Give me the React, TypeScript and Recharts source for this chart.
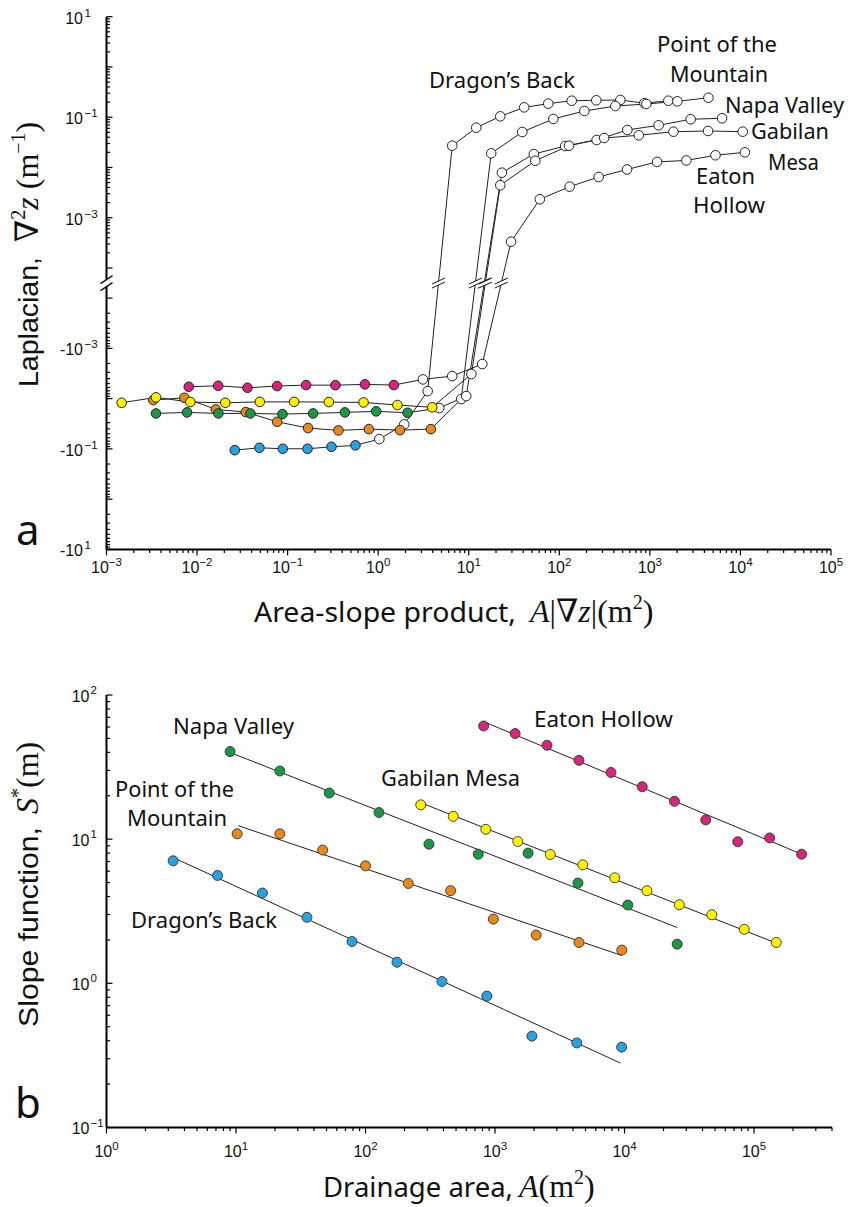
import React from 'react'
import { ComposedChart, Line, Scatter, XAxis, YAxis, ReferenceDot } from 'recharts'

// ---------- panel a: Laplacian vs area-slope product ----------
// first `filled` points are the coloured (convex) ones, the rest are open circles
const dragonAX = [0.0261, 0.0488, 0.0885, 0.166, 0.305, 0.561, 1.03, 1.94, 3.52, 6.57, 12.1, 22.3, 41, 75.5, 137, 256, 472, 869, 1600]
const dragonAY = [-0.106, -0.095, -0.0995, -0.0995, -0.0908, -0.0851, -0.0638, -0.0325, -0.00708, 0.0271, 0.0618, 0.104, 0.157, 0.186, 0.213, 0.217, 0.22, 0.19, 0.213]
const dragonAFilled = 6

const pointAX = [0.00329, 0.00724, 0.0161, 0.0345, 0.0766, 0.168, 0.364, 0.789, 1.74, 3.82, 8.26, 17.7, 39, 85.9, 189, 416, 914, 2010, 4430]
const pointAY = [-0.0107, -0.00962, -0.0164, -0.0185, -0.0289, -0.0385, -0.0429, -0.0404, -0.0423, -0.0404, -0.0102, 0.0191, 0.0508, 0.0923, 0.133, 0.167, 0.183, 0.207, 0.244]
const pointAFilled = 10

const napaAX = [0.00352, 0.00775, 0.0172, 0.0388, 0.0877, 0.191, 0.429, 0.95, 2.11, 4.72, 9.38, 23.2, 52.3, 116, 258, 564, 1250, 2820, 6270]
const napaAY = [-0.0197, -0.0188, -0.0197, -0.0197, -0.0203, -0.0197, -0.0188, -0.0179, -0.0191, -0.0154, -0.0089, 0.00787, 0.0185, 0.0267, 0.0352, 0.0557, 0.069, 0.091, 0.0953]
const napaAFilled = 9

const gabilanAX = [0.00147, 0.00352, 0.00843, 0.0205, 0.0493, 0.118, 0.285, 0.689, 1.63, 3.95, 10.7, 22.3, 54.3, 128, 313, 754, 1820, 4390, 10600]
const gabilanAY = [-0.0121, -0.00944, -0.0117, -0.0121, -0.0116, -0.0116, -0.0117, -0.0119, -0.0134, -0.0149, -0.00324, 0.00443, 0.0136, 0.0271, 0.0386, 0.0437, 0.0515, 0.0532, 0.0515]
const gabilanAFilled = 10

const eatonAX = [0.0081, 0.0171, 0.036, 0.0766, 0.16, 0.337, 0.713, 1.49, 3.12, 6.57, 14.1, 29.3, 60.9, 130, 272, 560, 1200, 2530, 5300, 11200]
const eatonAY = [-0.00581, -0.00555, -0.00608, -0.00562, -0.00537, -0.0054, -0.0052, -0.00537, -0.00414, -0.00356, -0.00205, 0.000333, 0.00233, 0.00415, 0.00647, 0.00912, 0.0129, 0.0138, 0.0175, 0.02]
const eatonAFilled = 8

const aXTickLabels = [1e-3, 1e-2, 1e-1, 1, 10, 100, 1e3, 1e4, 1e5]
const aYTickLabels = [10, 0.1, 0.001, -0.001, -0.1, -10]

// ---------- panel b: slope function vs drainage area ----------
const dragonBX = [3.27, 7.2, 16.0, 35.3, 78.6, 175, 389, 865, 1927, 4280, 9500]
const dragonBY = [7.08, 5.6, 4.23, 2.87, 1.95, 1.4, 1.03, 0.816, 0.43, 0.386, 0.361]
const dragonFitX = [3.27, 9300]
const dragonFitY = [7.46, 0.28]

const pointBX = [10.2, 21.8, 46.7, 100, 214, 454, 971, 2080, 4450, 9530]
const pointBY = [10.9, 10.9, 8.4, 6.53, 4.93, 4.39, 2.79, 2.16, 1.92, 1.7]
const pointFitX = [10.4, 9530]
const pointFitY = [12.4, 1.56]

const napaBX = [9.0, 21.8, 52.5, 127, 309, 742, 1800, 4370, 10600, 25500]
const napaBY = [40.5, 29.7, 20.9, 15.3, 9.23, 7.87, 8.0, 4.96, 3.49, 1.87]
const napaFitX = [9.0, 25500]
const napaFitY = [39.9, 2.44]

const gabilanBX = [267, 476, 849, 1500, 2670, 4760, 8410, 14900, 26500, 47200, 84100, 148500]
const gabilanBY = [17.3, 14.4, 11.7, 9.63, 7.83, 6.64, 5.4, 4.39, 3.51, 2.99, 2.37, 1.92]
const gabilanFitX = [267, 148500]
const gabilanFitY = [17.9, 1.9]

const eatonBX = [817, 1430, 2520, 4450, 7860, 13700, 24300, 42400, 74900, 132000, 233000]
const eatonBY = [61.0, 54.0, 44.8, 35.2, 29.0, 23.1, 18.3, 13.6, 9.59, 10.2, 7.87]
const eatonFitX = [817, 233000]
const eatonFitY = [65.3, 7.87]

const bXTickLabels = [1, 10, 100, 1e3, 1e4, 1e5]
const bYTickLabels = [0.1, 1, 10, 100]

const BLUE = '#2aa1dc'
const ORANGE = '#e8891f'
const GREEN = '#1f9548'
const YELLOW = '#fff200'
const MAGENTA = '#cf287c'

const TICK_FONT = '"Liberation Sans", Arial, sans-serif'
const LABEL_FONT = '"Noto Sans", "Open Sans", sans-serif'
const MATH_FONT = '"Liberation Serif", "DejaVu Serif", serif'

// split log axis for panel a: positives on top, negatives below, 0.6 decade gap
const GAP = 0.6
const GAP_MID = -4 - GAP / 2
const lapToU = (v: number) => (v > 0 ? Math.log10(v) : -4 - GAP - (Math.log10(-v) + 4))

const logTicks = (lo: number, hi: number) => {
  const out: number[] = []
  for (let e = Math.floor(Math.log10(lo)); e <= Math.ceil(Math.log10(hi)); e++) {
    for (let m = 1; m < 10; m++) {
      const v = m * Math.pow(10, e)
      if (v >= lo * 0.999 && v <= hi * 1.001) out.push(v)
    }
  }
  return out
}

const aXTicks = logTicks(1e-3, 1e5)
const aYTicks = [...logTicks(1e-4, 10).map(v => lapToU(v)), ...logTicks(1e-4, 10).map(v => lapToU(-v))]
const bXTicks = logTicks(1, 4e5)
const bYTicks = logTicks(0.1, 100)

const isMajor = (lg: number) => Math.abs(lg - Math.round(lg)) < 1e-6
const expText = (e: number) => (e < 0 ? '\u2212' + Math.abs(e) : String(e))

const seriesA = [
  { key: 'dragon', xs: dragonAX, ys: dragonAY, filled: dragonAFilled, color: BLUE },
  { key: 'point', xs: pointAX, ys: pointAY, filled: pointAFilled, color: ORANGE },
  { key: 'napa', xs: napaAX, ys: napaAY, filled: napaAFilled, color: GREEN },
  { key: 'gabilan', xs: gabilanAX, ys: gabilanAY, filled: gabilanAFilled, color: YELLOW },
  { key: 'eaton', xs: eatonAX, ys: eatonAY, filled: eatonAFilled, color: MAGENTA },
].map(s => ({
  ...s,
  rows: s.xs.map((x, i) => ({ x, u: lapToU(s.ys[i]), filled: i < s.filled })),
}))

const seriesB = [
  { key: 'dragon', xs: dragonBX, ys: dragonBY, fx: dragonFitX, fy: dragonFitY, color: BLUE },
  { key: 'point', xs: pointBX, ys: pointBY, fx: pointFitX, fy: pointFitY, color: ORANGE },
  { key: 'napa', xs: napaBX, ys: napaBY, fx: napaFitX, fy: napaFitY, color: GREEN },
  { key: 'gabilan', xs: gabilanBX, ys: gabilanBY, fx: gabilanFitX, fy: gabilanFitY, color: YELLOW },
  { key: 'eaton', xs: eatonBX, ys: eatonBY, fx: eatonFitX, fy: eatonFitY, color: MAGENTA },
].map(s => ({
  ...s,
  pts: s.xs.map((x, i) => ({ x, y: s.ys[i] })),
  fit: s.fx.map((x, i) => ({ x, y: s.fy[i] })),
}))

// x (log) where a line crosses the middle of the axis gap
function breakX(rows: { x: number; u: number }[]) {
  for (let i = 1; i < rows.length; i++) {
    const a = rows[i - 1]
    const b = rows[i]
    if (a.u < GAP_MID && b.u >= GAP_MID) {
      const t = (GAP_MID - a.u) / (b.u - a.u)
      const la = Math.log10(a.x)
      return Math.pow(10, la + t * (Math.log10(b.x) - la))
    }
  }
  return null
}

const breakMark = (w: number, rise: number, gap: number, sw: number) => (p: any) => {
  const { cx, cy } = p
  const h = gap / 2
  return (
    <g>
      <polygon
        points={`${cx - w},${cy - h + rise} ${cx + w},${cy - h - rise} ${cx + w},${cy + h - rise} ${cx - w},${cy + h + rise}`}
        fill="#fff"
      />
      <line x1={cx - w} y1={cy - h + rise} x2={cx + w} y2={cy - h - rise} stroke="#111" strokeWidth={sw} />
      <line x1={cx - w} y1={cy + h + rise} x2={cx + w} y2={cy + h - rise} stroke="#111" strokeWidth={sw} />
    </g>
  )
}

const openDot = (color: string) => (p: any) => (
  <circle
    key={p.index}
    cx={p.cx}
    cy={p.cy}
    r={4.8}
    fill={p.payload.filled ? color : '#fff'}
    stroke="#222"
    strokeWidth={1}
  />
)

const ball = (color: string) => (p: any) => (
  <circle cx={p.cx} cy={p.cy} r={5} fill={color} stroke="#333" strokeWidth={0.9} />
)

function XTick({ x, y, payload, labels, labelDy }: any) {
  const lg = Math.log10(payload.value)
  const major = isMajor(lg)
  const e = Math.round(lg)
  const labeled = major && labels.some((v: number) => Math.round(Math.log10(v)) === e)
  return (
    <g>
      <line x1={x} x2={x} y1={y} y2={y + (major ? 6 : 3.5)} stroke="#000" strokeWidth={1.2} />
      {labeled && (
        <text x={x} y={y + labelDy} textAnchor="middle" fontFamily={TICK_FONT} fontSize={16} fill="#111">
          10
          <tspan dy={-7} fontSize={11.5}>{expText(e)}</tspan>
        </text>
      )}
    </g>
  )
}

function YTickA({ x, y, payload }: any) {
  const u = payload.value
  const neg = u < GAP_MID
  const lg = neg ? -(u + 4 + GAP) - 4 : u
  const major = isMajor(lg)
  const e = Math.round(lg)
  const labeled =
    major && aYTickLabels.some(v => (v < 0) === neg && Math.round(Math.log10(Math.abs(v))) === e)
  return (
    <g>
      <line x1={x} x2={x + (major ? 6 : 3.5)} y1={y} y2={y} stroke="#000" strokeWidth={1.2} />
      {labeled && (
        <g fontFamily={TICK_FONT} fill="#111">
          <text x={x - 23.5} y={y + 7} textAnchor="end" fontSize={16}>{neg ? '-10' : '10'}</text>
          <text x={x - 22} y={y} fontSize={11.5}>{expText(e)}</text>
        </g>
      )}
    </g>
  )
}

function YTickB({ x, y, payload }: any) {
  const lg = Math.log10(payload.value)
  const major = isMajor(lg)
  const e = Math.round(lg)
  const labeled = major && bYTickLabels.some(v => Math.round(Math.log10(v)) === e)
  return (
    <g>
      <line x1={x} x2={x + (major ? 6 : 3.5)} y1={y} y2={y} stroke="#000" strokeWidth={1.2} />
      {labeled && (
        <g fontFamily={TICK_FONT} fill="#111">
          <text x={x - 17} y={y + 6.5} textAnchor="end" fontSize={16}>10</text>
          <text x={x - 16} y={y - 1} fontSize={11.5}>{expText(e)}</text>
        </g>
      )}
    </g>
  )
}

// annotation text: [text, left x, baseline y, width]
const labelsA: [string, number, number, number][] = [
  ['Dragon\u2019s Back', 429, 88, 146],
  ['Point of the', 657, 52, 120],
  ['Mountain', 670, 82, 98],
  ['Napa Valley', 725, 113, 119],
  ['Gabilan', 751, 139, 78],
  ['Mesa', 768, 170, 51],
  ['Eaton', 696, 184, 59],
  ['Hollow', 693, 213, 72],
]
const labelsB: [string, number, number, number][] = [
  ['Napa Valley', 173, 734, 121],
  ['Eaton Hollow', 534, 727, 139],
  ['Gabilan Mesa', 381, 786, 139],
  ['Point of the', 115, 797, 119],
  ['Mountain', 127, 826, 100],
  ['Dragon\u2019s Back', 131, 928, 146],
]

export default function App() {
  return (
    <div style={{ position: 'absolute', left: 0, top: 0, width: 848, height: 1207, background: '#fff' }}>
      <div style={{ position: 'absolute', left: 0, top: 0 }}>
        <ComposedChart width={848} height={600} margin={{ top: 16.7, right: 17, bottom: 0, left: 0 }}>
          <XAxis
            dataKey="x"
            type="number"
            scale="log"
            domain={[1e-3, 1e5]}
            allowDataOverflow
            ticks={aXTicks}
            interval={0}
            height={50.6}
            tickSize={0}
            tickMargin={0}
            tickLine={false}
            axisLine={{ stroke: '#000', strokeWidth: 2 }}
            tick={(p: any) => <XTick {...p} labels={aXTickLabels} labelDy={23.5} />}
          />
          <YAxis
            type="number"
            domain={[-4 - GAP - 5, 1]}
            allowDataOverflow
            ticks={aYTicks}
            interval={0}
            width={106.5}
            tickSize={0}
            tickMargin={0}
            tickLine={false}
            axisLine={{ stroke: '#000', strokeWidth: 2 }}
            tick={(p: any) => <YTickA {...p} />}
          />
          {seriesA.map(s => (
            <Line
              key={s.key}
              data={s.rows}
              dataKey="u"
              type="linear"
              stroke="#222"
              strokeWidth={1}
              dot={openDot(s.color)}
              activeDot={false}
              isAnimationActive={false}
            />
          ))}
          {seriesA.map(s => {
            const bx = breakX(s.rows)
            return bx ? (
              <ReferenceDot
                key={'brk-' + s.key}
                x={bx}
                y={GAP_MID}
                r={0}
                ifOverflow="visible"
                shape={breakMark(6.5, 3, 4, 1)}
                zIndex={1000}
              />
            ) : null
          })}
          <ReferenceDot
            x={1e-3}
            y={GAP_MID}
            r={0}
            ifOverflow="visible"
            shape={breakMark(6, 4, 7, 1.4)}
            zIndex={1000}
          />
        </ComposedChart>
      </div>

      <div style={{ position: 'absolute', left: 0, top: 640 }}>
        <ComposedChart width={848} height={567} margin={{ top: 55, right: 16, bottom: 0, left: 0 }}>
          <XAxis
            dataKey="x"
            type="number"
            scale="log"
            domain={[1, 4e5]}
            allowDataOverflow
            ticks={bXTicks}
            interval={0}
            height={79.5}
            tickSize={0}
            tickMargin={0}
            tickLine={false}
            axisLine={{ stroke: '#000', strokeWidth: 2 }}
            tick={(p: any) => <XTick {...p} labels={bXTickLabels} labelDy={29.5} />}
          />
          <YAxis
            type="number"
            scale="log"
            domain={[0.1, 100]}
            allowDataOverflow
            ticks={bYTicks}
            interval={0}
            width={106.5}
            tickSize={0}
            tickMargin={0}
            tickLine={false}
            axisLine={{ stroke: '#000', strokeWidth: 2 }}
            tick={(p: any) => <YTickB {...p} />}
          />
          {seriesB.map(s => (
            <Line
              key={'fit-' + s.key}
              data={s.fit}
              dataKey="y"
              type="linear"
              stroke="#222"
              strokeWidth={1}
              dot={false}
              activeDot={false}
              isAnimationActive={false}
            />
          ))}
          {seriesB.map(s => (
            <Scatter
              key={'pts-' + s.key}
              data={s.pts}
              dataKey="y"
              shape={ball(s.color)}
              isAnimationActive={false}
            />
          ))}
        </ComposedChart>
      </div>

      <svg
        width={848}
        height={1207}
        style={{ position: 'absolute', left: 0, top: 0, pointerEvents: 'none' }}
      >
        {[...labelsA, ...labelsB].map(([t, x, y, w], i) => (
          <text
            key={i}
            x={x}
            y={y}
            fontFamily={LABEL_FONT}
            fontSize={21}
            textLength={w}
            lengthAdjust="spacingAndGlyphs"
            fill="#111"
          >
            {t}
          </text>
        ))}

        <text x={16} y={545} fontFamily={LABEL_FONT} fontSize={42} fill="#111">a</text>
        <text x={15} y={1118} fontFamily={LABEL_FONT} fontSize={42} fill="#111">b</text>

        {/* panel a axis titles */}
        <text x={254} y={622} fontFamily={LABEL_FONT} fontSize={28} textLength={262} lengthAdjust="spacingAndGlyphs" fill="#111">
          Area-slope product,
        </text>
        <text x={530} y={622} fontFamily={MATH_FONT} fontSize={32} fill="#111">
          <tspan fontStyle="italic">A</tspan>
          <tspan>|∇</tspan>
          <tspan fontStyle="italic">z</tspan>
          <tspan>|(m</tspan>
          <tspan dy={-13} fontSize={20}>2</tspan>
          <tspan dy={13}>)</tspan>
        </text>
        <g transform="rotate(-90)">
          <text x={-387} y={38} fontFamily={TICK_FONT} fontSize={28} textLength={130} lengthAdjust="spacingAndGlyphs" fill="#111">
            Laplacian,
          </text>
          <text x={-242} y={38} fontFamily={MATH_FONT} fontSize={32} fill="#111">
            <tspan>∇</tspan>
            <tspan dy={-13} fontSize={20}>2</tspan>
            <tspan dy={13} fontStyle="italic">z</tspan>
            <tspan dx={8}>(m</tspan>
            <tspan dy={-13} fontSize={20}>{'\u22121'}</tspan>
            <tspan dy={13}>)</tspan>
          </text>
        </g>

        {/* panel b axis titles */}
        <text x={323} y={1197} fontFamily={LABEL_FONT} fontSize={28} textLength={190} lengthAdjust="spacingAndGlyphs" fill="#111">
          Drainage area,
        </text>
        <text x={519} y={1197} fontFamily={MATH_FONT} fontSize={32} fill="#111">
          <tspan fontStyle="italic">A</tspan>
          <tspan>(m</tspan>
          <tspan dy={-13} fontSize={20}>2</tspan>
          <tspan dy={13}>)</tspan>
        </text>
        <g transform="rotate(-90)">
          <text x={-1027} y={38} fontFamily={TICK_FONT} fontSize={28} textLength={200} lengthAdjust="spacingAndGlyphs" fill="#111">
            Slope function,
          </text>
          <text x={-814} y={38} fontFamily={MATH_FONT} fontSize={32} fill="#111">
            <tspan fontStyle="italic">S</tspan>
            <tspan dy={-13} fontSize={20}>*</tspan>
            <tspan dy={13}>(m)</tspan>
          </text>
        </g>
      </svg>
    </div>
  )
}
